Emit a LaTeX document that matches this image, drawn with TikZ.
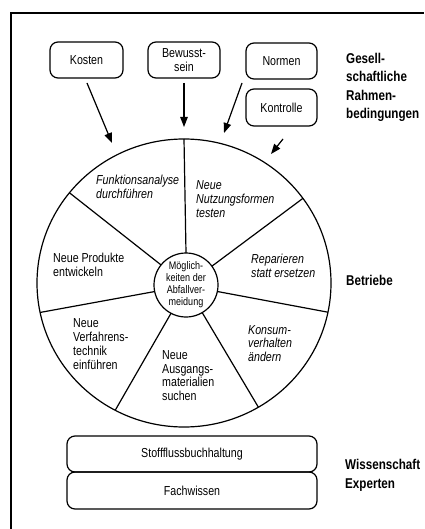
\documentclass[tikz,border=0pt]{standalone}
\usepackage{fontspec}
\setmainfont{Liberation Sans}[FakeStretch=0.82]
\usetikzlibrary{arrows.meta,calc}
\tikzset{
  frame/.style={line width=1.4pt},
  rbox/.style={draw, line width=1.2pt, rounded corners=8pt, inner sep=0pt, align=center,
    font=\fontsize{13}{13.5}\selectfont},
  arr/.style={line width=1.2pt, -{Triangle[length=10pt,width=7.5pt]}},
  sectxt/.style={inner sep=0pt, anchor=west, align=left, font=\fontsize{13}{13.8}\selectfont},
  itsec/.style={sectxt, font=\fontsize{13}{13.8}\selectfont\itshape},
  sidelbl/.style={inner sep=0pt, anchor=west, align=left, font=\fontsize{14.2}{18.5}\selectfont\bfseries},
  wheel/.style={line width=1.2pt}
}
\begin{document}
\begin{tikzpicture}[x=1pt,y=1pt]
\useasboundingbox (0,0) rectangle (424,-529);
% open frame
\draw[frame] (11,-529) -- (11,-13) -- (424,-13);

% top boxes
\node[rbox, minimum width=73pt, minimum height=36pt] (kosten) at (86.5,-60) {Kosten};
\node[rbox, minimum width=72pt, minimum height=36pt] (bewusst) at (184,-60) {Bewusst-\\sein};
\node[rbox, minimum width=71pt, minimum height=36pt] (normen) at (281.5,-61) {Normen};
\node[rbox, minimum width=71pt, minimum height=37pt] (kontrolle) at (281.5,-107.5) {Kontrolle};

\node[sidelbl] (ges) at (346,-87.5) {Gesell-\\schaftliche\\Rahmen-\\bedingungen};

% wheel
\coordinate (C) at (184,-283);
\coordinate (Ci) at (186,-285);
\draw[wheel] (C) ellipse [x radius=147pt, y radius=144pt];
\node[draw, circle, line width=1.2pt, minimum size=64pt, inner sep=0pt, align=center,
  font=\fontsize{11}{12}\selectfont] (mid) at (Ci) {Möglich-\\keiten der\\Abfallver-\\meidung};
\foreach \a in {90,36,-11.7,-59.6,-117.9,-168.2,141.2}{
  \draw[wheel] ($(Ci)+(\a:32)$) -- ($(C)+({147*cos(\a)},{144*sin(\a)})$);
}

% arrows
\coordinate (k1) at (87,-83);   \coordinate (k2) at (112,-143);
\coordinate (b1) at (184,-83);  \coordinate (b2) at (184,-127);
\coordinate (n1) at (242,-83);  \coordinate (n2) at (224,-133);
\coordinate (s1) at (283,-139); \coordinate (s2) at (271,-154);
\draw[arr] (k1) -- (k2);
\draw[arr] (b1) -- (b2);
\draw[arr] (n1) -- (n2);
\draw[arr] (s1) -- (s2);

% sector texts
\node[itsec] (funk) at (96,-186.5) {Funktionsanalyse\\durchführen};
\node[itsec] (nutz) at (196,-199) {Neue\\Nutzungsformen\\testen};
\node[itsec] (rep) at (251,-265.5) {Reparieren\\statt ersetzen};
\node[itsec] (kons) at (248,-343.5) {Konsum-\\verhalten\\ändern};
\node[sectxt] (ausg) at (162,-375.5) {Neue\\Ausgangs-\\materialien\\suchen};
\node[sectxt] (verf) at (73,-344) {Neue\\Verfahrens-\\technik\\einführen};
\node[sectxt] (prod) at (53,-264.5) {Neue Produkte\\entwickeln};

\node[sidelbl] (betr) at (346,-280) {Betriebe};

% bottom boxes
\node[rbox, minimum width=250pt, minimum height=36pt] (stoff) at (192,-454) {Stoffflussbuchhaltung};
\node[rbox, minimum width=250pt, minimum height=37pt] (fach) at (192,-490.5) {Fachwissen};

\node[sidelbl] (wiss) at (345,-475.5) {Wissenschaft\\Experten};
\end{tikzpicture}
\end{document}
